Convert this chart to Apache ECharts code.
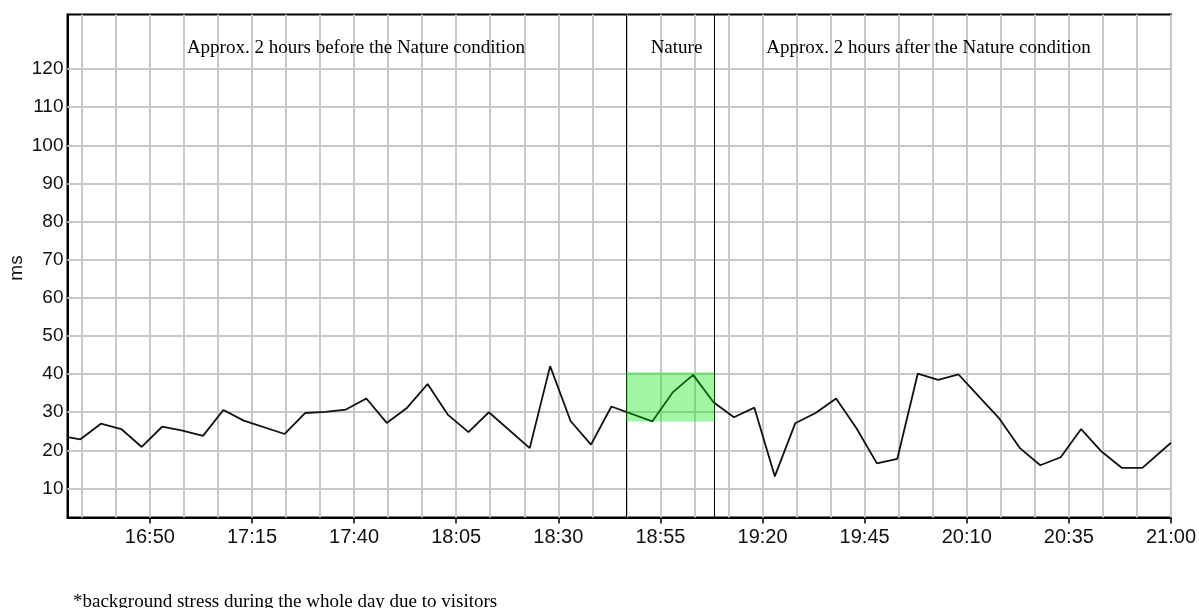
<!DOCTYPE html>
<html>
<head>
<meta charset="utf-8">
<script src="https://cdn.jsdelivr.net/npm/echarts@6/dist/echarts.min.js"></script>
<style>
html,body{margin:0;padding:0;background:#fff;}
#c{width:1199px;height:608px;}
</style>
</head>
<body>
<div id="c"></div>
<script>
// ---- data ----
var times = ['16:29:50','16:33','16:38','16:43','16:48','16:53','16:58','17:03','17:08','17:13',
  '17:23','17:28','17:33','17:38','17:43','17:48','17:53','17:58','18:03','18:08','18:13',
  '18:23','18:28','18:33','18:38','18:43','18:53','18:58','19:03','19:08','19:13','19:18',
  '19:23','19:28','19:33','19:38','19:43','19:48','19:53','19:58','20:03','20:08','20:13',
  '20:18','20:23','20:28','20:33','20:38','20:43','20:48','20:53','21:00'];
var values = [23.5,22.9,27.0,25.6,20.9,26.2,25.2,23.8,30.6,27.8,
  24.3,29.8,30.1,30.7,33.6,27.2,31.2,37.4,29.3,24.8,30.0,
  20.6,42.1,27.7,21.5,31.5,27.6,35.2,39.8,32.6,28.7,31.2,
  13.2,27.1,29.8,33.6,25.8,16.6,17.8,40.1,38.5,39.9,34.1,
  28.3,20.6,16.1,18.2,25.6,19.7,15.4,15.4,22.0];
var xLabels = ['16:50','17:15','17:40','18:05','18:30','18:55','19:20','19:45','20:10','20:35','21:00'];
var xGridStart = '16:33:20';      // first vertical grid line
var xGridStepMin = 25 / 3;        // vertical grid spacing (minutes)
var yTicks = [10,20,30,40,50,60,70,80,90,100,110,120];
var xRange = ['16:29:50','21:00'];
var yRange = [2.4, 134.3];
var natureWindow = ['18:46:36','19:08:18'];
var natureBand = [27.6, 40.5];
var sectionTexts = ['Approx. 2 hours before the Nature condition','Nature','Approx. 2 hours after the Nature condition'];
var yName = 'ms';
var footnote = '*background stress during the whole day due to visitors';

// ---- helpers ----
function toMin(s){ var p=s.split(':').map(Number); return p[0]*60+p[1]+(p[2]||0)/60; }
function fmt(v){ var h=Math.floor(v/60), m=Math.round(v-h*60); if(m===60){h++;m=0;} return h+':'+(m<10?'0':'')+m; }

var seriesData = times.map(function(t,i){ return [toMin(t), values[i]]; });
var labelVals = xLabels.map(toMin);
var xMax = toMin(xRange[1]);
var gridX = [];
for (var g = toMin(xGridStart); g <= xMax + 0.01; g += xGridStepMin) gridX.push(g);

var gridLines = [];
gridX.forEach(function(v){ gridLines.push({xAxis:v}); });
yTicks.forEach(function(v){ gridLines.push({yAxis:v}); });

var serif = '19px "Liberation Serif"';

var chart = echarts.init(document.getElementById('c'), null, {renderer:'canvas'});
chart.setOption({
  animation:false,
  backgroundColor:'#fff',
  grid:{left:67.5, right:25, top:14.5, bottom:90.5, show:true, borderColor:'#000', borderWidth:2, backgroundColor:'transparent'},
  xAxis:{
    type:'value', min:toMin(xRange[0]), max:xMax,
    axisLine:{show:true, lineStyle:{color:'#000', width:2}},
    axisTick:{show:true, customValues:labelVals, length:6, lineStyle:{color:'#000', width:1.5}},
    axisLabel:{customValues:labelVals, formatter:function(v){return fmt(v);}, fontFamily:'Liberation Sans', fontSize:20, color:'#111', margin:10},
    splitLine:{show:false}
  },
  yAxis:{
    type:'value', min:yRange[0], max:yRange[1],
    axisLine:{show:true, lineStyle:{color:'#000', width:2}},
    axisTick:{show:false},
    axisLabel:{customValues:yTicks, fontFamily:'Liberation Sans', fontSize:19, color:'#111', margin:4},
    splitLine:{show:false}
  },
  series:[
    {
      type:'line', data:seriesData, symbol:'none', z:2,
      lineStyle:{color:'#111', width:1.8},
      markLine:{
        silent:true, symbol:'none', z:1, animation:false,
        label:{show:false},
        lineStyle:{color:'#c8c8c8', width:2, type:'solid'},
        data:gridLines
      }
    },
    {
      type:'line', data:[], symbol:'none',
      markLine:{
        silent:true, symbol:'none', z:3, animation:false,
        label:{show:false},
        lineStyle:{color:'#000', width:1, type:'solid'},
        data:natureWindow.map(function(t){ return {xAxis:toMin(t)}; })
      },
      markArea:{
        silent:true, z:4,
        itemStyle:{color:'rgba(0,230,0,0.36)'},
        data:[[{xAxis:toMin(natureWindow[0]), yAxis:natureBand[0]},{xAxis:toMin(natureWindow[1]), yAxis:natureBand[1]}]]
      }
    }
  ],
  graphic:[
    {type:'text', z:100, x:17, y:268, rotation:Math.PI/2, style:{text:yName, font:'19px "Liberation Sans"', fill:'#111', textAlign:'center', textVerticalAlign:'middle'}},
    {type:'text', z:100, x:356, y:48, style:{text:sectionTexts[0], font:serif, fill:'#000', textAlign:'center', textVerticalAlign:'middle'}},
    {type:'text', z:100, x:676.5, y:48, style:{text:sectionTexts[1], font:serif, fill:'#000', textAlign:'center', textVerticalAlign:'middle'}},
    {type:'text', z:100, x:928.5, y:48, style:{text:sectionTexts[2], font:serif, fill:'#000', textAlign:'center', textVerticalAlign:'middle'}},
    {type:'text', z:100, x:73, y:602, style:{text:footnote, font:serif, fill:'#000', textAlign:'left', textVerticalAlign:'middle'}}
  ]
});
</script>
</body>
</html>
